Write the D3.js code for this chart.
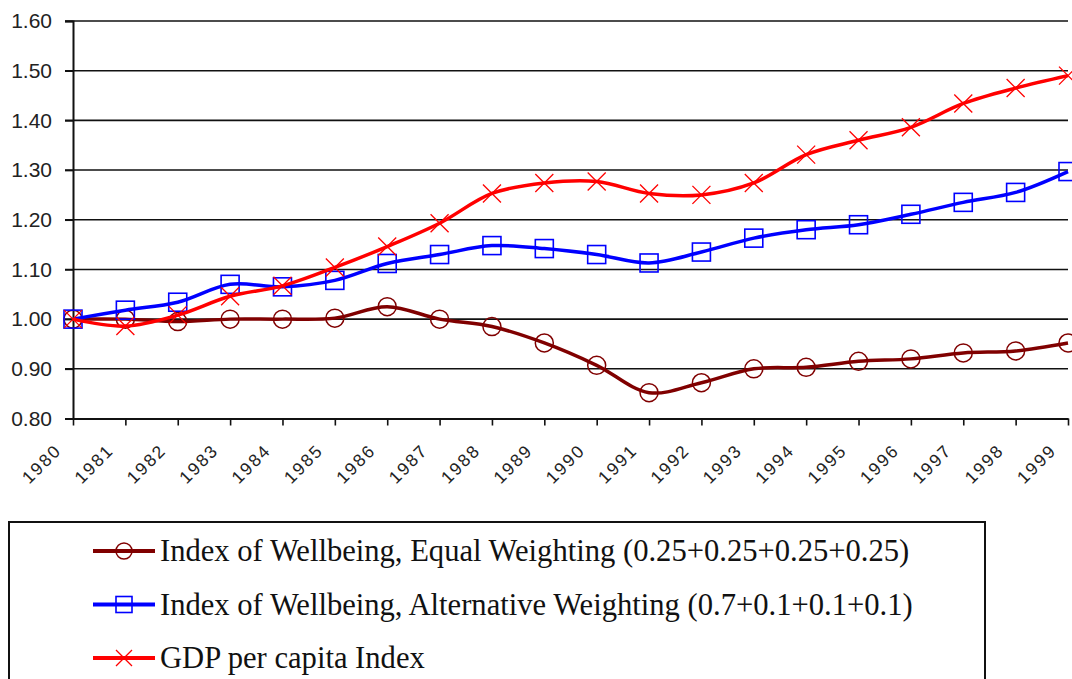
<!DOCTYPE html>
<html>
<head>
<meta charset="utf-8">
<script src="https://cdn.jsdelivr.net/npm/d3@7"></script>
<style>
  html, body { margin: 0; padding: 0; background: #fff; }
  svg { display: block; }
</style>
</head>
<body>
<svg id="chart" width="1072" height="679"></svg>
<script>
// values
const years = ["1980","1981","1982","1983","1984","1985","1986","1987","1988","1989",
               "1990","1991","1992","1993","1994","1995","1996","1997","1998","1999"];

const equalWeighting = [1.00, 1.00, 0.995, 1.00, 1.00, 1.002, 1.025, 1.00, 0.985, 0.952,
                        0.907, 0.852, 0.872, 0.900, 0.903, 0.915, 0.920, 0.932, 0.936, 0.952];

const altWeighting = [1.00, 1.018, 1.034, 1.070, 1.065, 1.078, 1.112, 1.130, 1.148, 1.142,
                      1.130, 1.113, 1.135, 1.163, 1.180, 1.190, 1.211, 1.235, 1.255, 1.297];

const gdpIndex = [1.00, 0.986, 1.008, 1.046, 1.067, 1.104, 1.146, 1.193, 1.253, 1.274,
                  1.277, 1.253, 1.250, 1.274, 1.331, 1.360, 1.386, 1.434, 1.465, 1.490];

const yTicks = [0.80, 0.90, 1.00, 1.10, 1.20, 1.30, 1.40, 1.50, 1.60];

const seriesNames = [
  "Index of Wellbeing, Equal Weighting (0.25+0.25+0.25+0.25)",
  "Index of Wellbeing, Alternative Weighting (0.7+0.1+0.1+0.1)",
  "GDP per capita Index"
];

const series = [
  {name: seriesNames[0], values: equalWeighting, color: "#800000", marker: "circle"},
  {name: seriesNames[1], values: altWeighting, color: "#0000ff", marker: "square"},
  {name: seriesNames[2], values: gdpIndex, color: "#ff0000", marker: "cross"}
];

const svg = d3.select("#chart");

const x = d3.scalePoint().domain(years).range([73, 1068]);
const y = d3.scaleLinear().domain([0.8, 1.6]).range([418.5, 21]);

// gridlines
svg.append("g")
  .selectAll("line")
  .data(yTicks.slice(1))
  .join("line")
  .attr("x1", 65).attr("x2", 1068)
  .attr("y1", d => y(d)).attr("y2", d => y(d))
  .attr("stroke", "#111").attr("stroke-width", 1.6);

// y axis
const yAxis = svg.append("g")
  .attr("transform", "translate(73,0)")
  .call(d3.axisLeft(y).tickValues(yTicks).tickFormat(d3.format(".2f")).tickSize(8).tickPadding(13));
yAxis.select(".domain").attr("stroke", "#111").attr("stroke-width", 2);
yAxis.selectAll(".tick line").attr("stroke", "#111").attr("stroke-width", 1.6);
yAxis.selectAll("text")
  .attr("font-family", "'Liberation Sans', Arial, sans-serif")
  .attr("font-size", 21).attr("fill", "#222");

// x axis
const xAxis = svg.append("g")
  .attr("transform", `translate(0,${y(0.8)})`)
  .call(d3.axisBottom(x).tickSize(7).tickSizeOuter(0));
xAxis.select(".domain").attr("stroke", "#111").attr("stroke-width", 2);
xAxis.selectAll(".tick line").attr("stroke", "#111").attr("stroke-width", 1.6);
xAxis.selectAll("text")
  .attr("font-family", "'Liberation Sans', Arial, sans-serif")
  .attr("font-size", 17.5).attr("fill", "#222")
  .attr("letter-spacing", 2)
  .attr("text-anchor", "end")
  .attr("dy", null).attr("y", null)
  .attr("transform", "translate(-11,33) rotate(-45)");

// lines
const line = d3.line()
  .x((d, i) => x(years[i]))
  .y(d => y(d))
  .curve(d3.curveCatmullRom.alpha(0.5));

function drawMarker(g, type, color, size) {
  const h = size / 2;
  if (type === "circle") {
    g.append("circle").attr("r", h).attr("fill", "none")
      .attr("stroke", color).attr("stroke-width", 1.5);
  } else if (type === "square") {
    g.append("rect").attr("x", -h).attr("y", -h).attr("width", size).attr("height", size)
      .attr("fill", "none").attr("stroke", color).attr("stroke-width", 1.6);
  } else {
    g.append("path").attr("d", `M${-h},${-h}L${h},${h}M${-h},${h}L${h},${-h}`)
      .attr("fill", "none").attr("stroke", color).attr("stroke-width", 1.3);
  }
}

series.forEach(s => {
  svg.append("path")
    .datum(s.values)
    .attr("d", line)
    .attr("fill", "none")
    .attr("stroke", s.color)
    .attr("stroke-width", 3.5);
  svg.append("g")
    .selectAll("g")
    .data(s.values)
    .join("g")
    .attr("transform", (d, i) => `translate(${x(years[i])},${y(d)})`)
    .each(function() { drawMarker(d3.select(this), s.marker, s.color, 18); });
});

// legend
svg.append("rect")
  .attr("x", 9).attr("y", 522).attr("width", 976).attr("height", 200)
  .attr("fill", "none").attr("stroke", "#111").attr("stroke-width", 2);

const legendRows = svg.append("g")
  .selectAll("g")
  .data(series)
  .join("g")
  .attr("transform", (d, i) => `translate(0,${551 + i * 53.5})`);

legendRows.append("line")
  .attr("x1", 93).attr("x2", 155)
  .attr("stroke", d => d.color).attr("stroke-width", 4);
legendRows.each(function(d) {
  const g = d3.select(this).append("g").attr("transform", "translate(124,0)");
  drawMarker(g, d.marker, d.color, 16);
});
legendRows.append("text")
  .attr("x", 160).attr("y", 10)
  .attr("font-family", "'Liberation Serif', 'Times New Roman', serif")
  .attr("font-size", 30.6)
  .attr("fill", "#111")
  .text(d => d.name);
</script>
</body>
</html>
